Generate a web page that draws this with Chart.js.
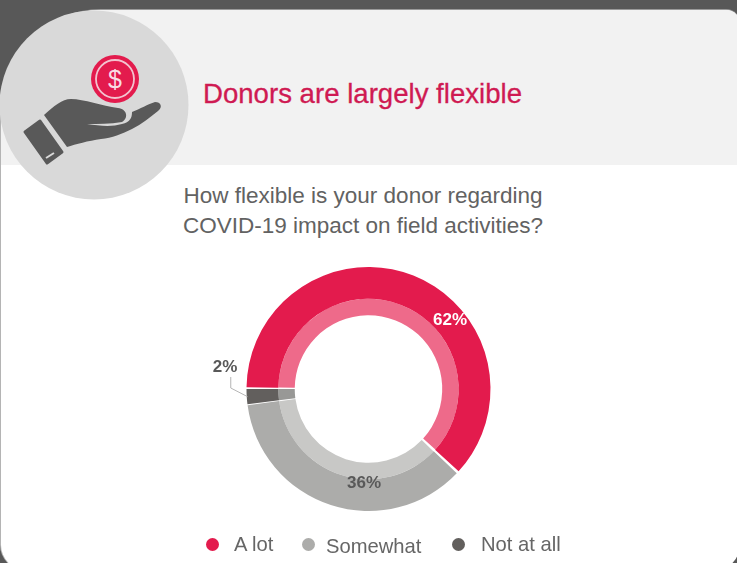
<!DOCTYPE html>
<html><head><meta charset="utf-8">
<script src="https://cdn.jsdelivr.net/npm/chart.js@4"></script>
<style>
html,body{margin:0;padding:0;width:737px;height:563px;overflow:hidden;background:#585858;font-family:"Liberation Sans",sans-serif}
#card{position:absolute;left:1px;top:10px;width:739px;height:560px;background:#fff;border-radius:100px 14px 25px 25px;overflow:hidden;box-shadow:-1px 0 0 #b4b4b4,0 -1px 0 #9a9a9a}
#band{position:absolute;left:0;top:0;width:739px;height:155px;background:#f2f2f2}
#art{position:absolute;left:0;top:0}
canvas{position:absolute;left:0;top:0}
.t{position:absolute;white-space:nowrap}
#h{left:203px;top:77px;font-size:27.6px;line-height:34px;color:#cf1a52;-webkit-text-stroke:.3px #cf1a52}
#q{left:0;top:181px;width:726px;text-align:center;font-size:22.5px;line-height:30px;color:#626262}
.lg{position:absolute;font-size:20.2px;line-height:24px;color:#666;white-space:nowrap}
.dot{position:absolute;width:13px;height:13px;border-radius:50%}
</style></head><body>
<div id="card"><div id="band"></div></div>
<svg id="art" width="737" height="563">
<circle cx="94" cy="105" r="94.5" fill="#d9d9d9"/>
<circle cx="115" cy="79" r="24" fill="#e31b4d"/>
<circle cx="115" cy="79" r="19" fill="none" stroke="#f3c3cf" stroke-width="1.8"/>
<text x="115" y="88" text-anchor="middle" font-family="Liberation Sans" font-size="25" fill="#f8dde4">$</text>
<path d="M44 115 C54 106 62 99 71 99 C84 99 102 106 118 108 C127 109 129 118 122 122 C110 124 98 124 87 124 C100 126 112 127 122 124 C130 122 132 118 132 112 C140 109 148 104 155 102 C161 102 163 107 158 111 C150 117 142 124 132 129 C122 134 112 138 101 139 C88 141 76 144 67 147 Z" fill="#595959"/>
<path d="M25 132 L40 121 L62 152 L47 163 Z" fill="#595959" stroke="#595959" stroke-width="3" stroke-linejoin="round"/>
<path d="M46 158 L54 153" stroke="#d9d9d9" stroke-width="2"/>
</svg>
<div class="t" id="h"></div>
<div class="t" id="q"></div>
<canvas id="c" width="737" height="563"></canvas>
<div id="legend"></div>
<script>
const title = "Donors are largely flexible";
const questionLines = ["How flexible is your donor regarding", "COVID-19 impact on field activities?"];
const categories = ["A lot", "Somewhat", "Not at all"];
const values = [62, 36, 2];
const valueLabels = ["62%", "36%", "2%"];
const outerColors = ["#e31b4d", "#acacaa", "#625f5d"];
const innerColors = ["#ee6a8a", "#c8c8c6", "#989896"];
const labelColors = ["#ffffff", "#595959", "#595959"];

document.getElementById('h').textContent = title;
document.getElementById('q').innerHTML = questionLines.join('<br>');
const lgPos = [[206,234,532],[302,326,534],[452,481,532]];
const lg = document.getElementById('legend');
categories.forEach((c,i)=>{
  const d=document.createElement('div');d.className='dot';d.style.cssText=`left:${lgPos[i][0]}px;top:538px;background:${outerColors[i]}`;lg.appendChild(d);
  const t=document.createElement('div');t.className='lg';t.textContent=c;t.style.cssText=`left:${lgPos[i][1]}px;top:${lgPos[i][2]}px`;lg.appendChild(t);
});

const labelPlugin = {
  id:'sliceLabels',
  afterDatasetsDraw(chart){
    const g=chart.ctx, arcs=chart.getDatasetMeta(0).data;
    const cx=arcs[0].x, cy=arcs[0].y, R=arcs[0].outerRadius;
    g.save();
    g.font='bold 17px "Liberation Sans"';g.textAlign='center';g.textBaseline='middle';
    const place=[[81.5,-69],[-4.5,94],[-143.5,-22]];
    valueLabels.forEach((s,i)=>{g.fillStyle=labelColors[i];g.fillText(s,cx+place[i][0],cy+place[i][1]);});
    const a=arcs[2], m=(a.startAngle+a.endAngle)/2;
    g.strokeStyle='#b5b5b5';g.lineWidth=1;g.beginPath();
    g.moveTo(cx+R*Math.cos(m),cy+R*Math.sin(m));
    g.lineTo(cx-R-16.5,cy-1);g.lineTo(cx-R-16.5,cy-12);g.stroke();
    g.restore();
  }
};
new Chart(document.getElementById('c'),{
  type:'doughnut',
  data:{labels:categories,datasets:[
    {data:values,backgroundColor:outerColors,borderWidth:0,spacing:1.5,weight:32},
    {data:values,backgroundColor:innerColors,borderWidth:0,spacing:1.5,weight:16.5}
  ]},
  options:{responsive:false,animation:false,rotation:-90,cutout:'60.2%',
    layout:{padding:{left:246.5,right:246.5,top:267,bottom:52}},
    plugins:{legend:{display:false},tooltip:{enabled:false},title:{display:false}}},
  plugins:[labelPlugin]
});
</script>
</body></html>
